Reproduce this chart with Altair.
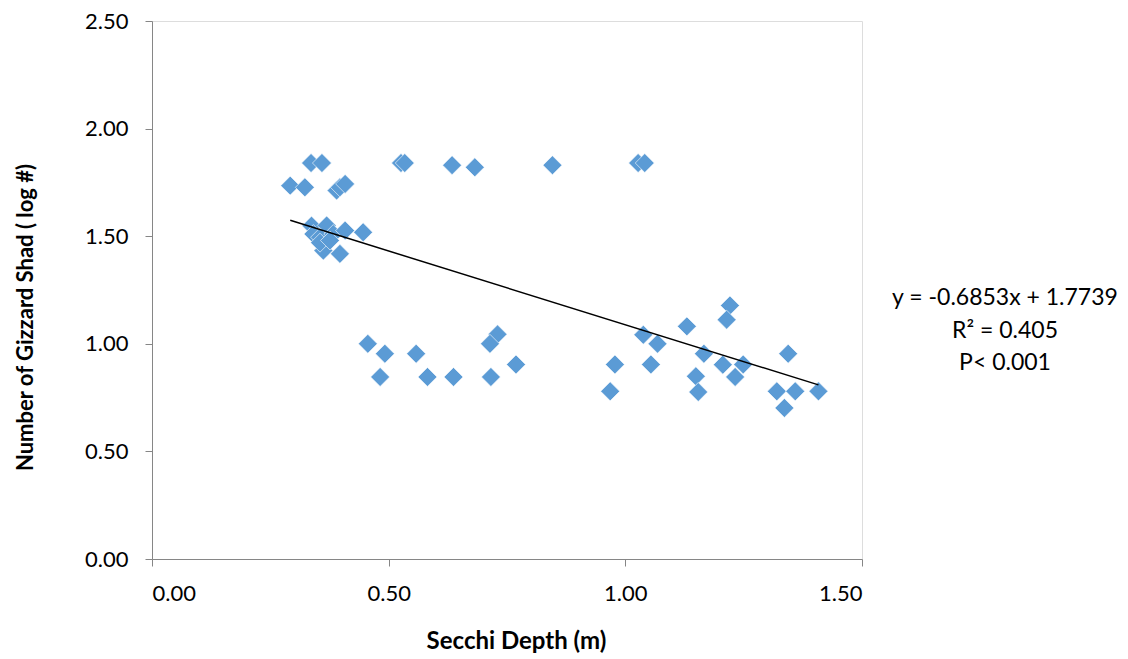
import altair as alt
import pandas as pd

# Secchi depth (m) and log number of gizzard shad
secchi = [
    0.336, 0.359, 0.526, 0.534, 0.634, 0.682, 0.846, 1.027, 1.041,
    0.292, 0.323, 0.390, 0.397, 0.408,
    0.337, 0.369, 0.341, 0.355, 0.383, 0.408, 0.446, 0.362, 0.397, 0.355, 0.376,
    0.456, 0.492, 0.482, 0.558, 0.582, 0.637, 0.730, 0.714, 0.716, 0.769,
    1.221, 1.214, 1.130, 1.038, 1.068, 0.978, 0.968, 1.054, 1.166, 1.149,
    1.154, 1.206, 1.249, 1.232, 1.344, 1.320, 1.359, 1.336, 1.408,
]
shad = [
    1.84, 1.84, 1.84, 1.84, 1.83, 1.82, 1.83, 1.84, 1.84,
    1.735, 1.727, 1.712, 1.727, 1.743,
    1.549, 1.55, 1.51, 1.495, 1.51, 1.526, 1.518, 1.433, 1.418, 1.47, 1.48,
    1.00, 0.954, 0.846, 0.954, 0.846, 0.846, 1.044, 1.00, 0.846, 0.904,
    1.178, 1.112, 1.081, 1.042, 1.00, 0.904, 0.779, 0.904, 0.954, 0.849,
    0.776, 0.903, 0.904, 0.846, 0.954, 0.779, 0.779, 0.702, 0.779,
]

slope = -0.6853
intercept = 1.7739
annotation = ["y = -0.6853x + 1.7739", "R² = 0.405", "P< 0.001"]

x_ticks = [0.0, 0.5, 1.0, 1.5]
y_ticks = [0.0, 0.5, 1.0, 1.5, 2.0, 2.5]

FONT = "Lato"
AXIS_COLOR = "#868686"

df = pd.DataFrame({"secchi": secchi, "shad": shad})
xmin, xmax = min(secchi), max(secchi)
trend = pd.DataFrame({
    "secchi": [xmin, xmax],
    "shad": [slope * xmin + intercept, slope * xmax + intercept],
})
ann = pd.DataFrame({"label": ["\n".join(annotation)]})

xscale = alt.Scale(domain=[0, 1.5], nice=False)
yscale = alt.Scale(domain=[0, 2.5], nice=False)

xaxis = alt.Axis(
    values=x_ticks, format=".2f", grid=False, title="Secchi Depth (m)",
    domainColor=AXIS_COLOR, tickColor=AXIS_COLOR, tickSize=7,
    labelPadding=17, labelFontSize=22, labelFont=FONT, labelColor="black",
    titleFont=FONT, titleFontSize=24, titleFontWeight="bold",
    titleColor="black", titleX=364, titleY=82, titleBaseline="middle",
    titleAlign="center",
)
yaxis = alt.Axis(
    values=y_ticks, format=".2f", grid=False,
    title="Number of Gizzard Shad ( log #)",
    domainColor=AXIS_COLOR, tickColor=AXIS_COLOR, tickSize=7,
    labelPadding=17, labelFontSize=22, labelFont=FONT, labelColor="black",
    titleFont=FONT, titleFontSize=22, titleFontWeight="bold",
    titleColor="black", titleX=-127, titleY=296, titleBaseline="middle",
    titleAlign="center", titleAngle=270,
)

points = alt.Chart(df).mark_point(
    shape="diamond", filled=True, size=360, opacity=1, color="#5B9BD5",
    stroke="white", strokeWidth=0.6,
).encode(
    x=alt.X("secchi:Q", scale=xscale, axis=xaxis),
    y=alt.Y("shad:Q", scale=yscale, axis=yaxis),
)

line = alt.Chart(trend).mark_line(color="black", strokeWidth=1.5).encode(
    x=alt.X("secchi:Q", scale=xscale),
    y=alt.Y("shad:Q", scale=yscale),
)

text = alt.Chart(ann).mark_text(
    font=FONT, fontSize=23, color="black", align="center",
    baseline="middle", lineBreak="\n", lineHeight=32.5,
).encode(
    x=alt.value(853),
    y=alt.value(277),
    text="label:N",
)

chart = alt.layer(points, line, text).properties(
    width=710,
    height=538,
    padding={"left": 144, "top": 13, "right": 258, "bottom": 99},
    autosize=alt.AutoSizeParams(type="none"),
).configure_view(stroke=None).configure(background="white")

chart.save("out.html", embed_options={"renderer": "svg", "actions": False})
